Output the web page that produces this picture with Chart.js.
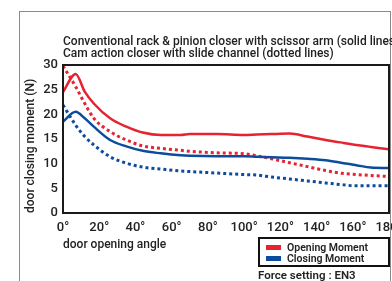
<!DOCTYPE html>
<html>
<head>
<meta charset="utf-8">
<script src="https://cdn.jsdelivr.net/npm/chart.js@4.4.1/dist/chart.umd.min.js"></script>
<style>
  html, body { margin:0; padding:0; background:#fff; overflow:hidden; }
  #wrap { position:relative; width:392px; height:281px; overflow:hidden; font-family:Roboto, "Liberation Sans", Arial, sans-serif; color:#222; }
  #frame { position:absolute; left:19px; top:11px; width:370px; height:300px; border:1.5px solid #8a8a8a; }
  #c { position:absolute; left:0; top:0; }
  .title { position:absolute; left:63px; white-space:nowrap; font-size:12px; font-weight:500; line-height:12px; }
  #legend { position:absolute; left:258px; top:237px; width:128px; height:26px; border:2px solid #111; background:#fff; }
  .li { position:absolute; left:6px; font-size:10.5px; font-weight:600; white-space:nowrap; line-height:11px; }
  .sw { display:inline-block; width:15px; height:5px; vertical-align:middle; margin-right:6px; position:relative; top:-1px; }
  #force { position:absolute; left:258px; top:269px; font-size:11.5px; font-weight:600; white-space:nowrap; line-height:13px; }
</style>
</head>
<body>
<div id="wrap">
  <div id="frame"></div>
  <canvas id="c" width="440" height="281"></canvas>
  <div class="title" id="t1" style="top:35px;">Conventional rack &amp; pinion closer with scissor arm (solid lines)</div>
  <div class="title" id="t2" style="top:47px;">Cam action closer with slide channel (dotted lines)</div>
  <div id="legend">
    <div class="li" style="top:3px;"><span class="sw" style="background:#e62330"></span>Opening Moment</div>
    <div class="li" style="top:14px;"><span class="sw" style="background:#0d4c9c"></span>Closing Moment</div>
  </div>
  <div id="force">Force setting : EN3</div>
</div>
<script>
// Door opening angle (degrees)
const angles = [0, 7, 12, 17, 26, 35, 44, 54, 65, 70, 85, 100, 107, 115, 125, 135, 145, 155, 162, 170, 180];
// Conventional rack & pinion (solid)
const openingSolid = [24.5, 28.2, 24.6, 22.2, 19.2, 17.5, 16.3, 15.8, 15.8, 16.0, 16.0, 15.8, 15.9, 16.0, 16.1, 15.5, 14.8, 14.2, 13.8, 13.4, 12.9];
const closingSolid = [18.5, 20.5, 19.2, 17.5, 14.8, 13.5, 12.6, 12.1, 11.7, 11.6, 11.5, 11.5, 11.4, 11.3, 11.2, 11.0, 10.7, 10.1, 9.7, 9.2, 9.1];
// Cam action with slide channel (dotted)
const openingDotted = [29.8, 25.6, 22.2, 19.2, 16.5, 14.8, 13.6, 13.1, 12.7, 12.5, 12.2, 12.0, 11.6, 11.0, 10.2, 9.4, 8.6, 8.0, 7.8, 7.6, 7.4];
const closingDotted = [21.9, 17.8, 15.5, 13.8, 11.4, 10.1, 9.3, 8.9, 8.5, 8.4, 8.1, 7.8, 7.7, 7.3, 6.9, 6.5, 6.1, 5.7, 5.5, 5.5, 5.5];
const yTicks = [0, 5, 10, 15, 20, 25, 30];
const xTicks = [0, 20, 40, 60, 80, 100, 120, 140, 160, 180];

const RED = '#e62330';
const BLUE = '#0d4c9c';
const TXT = '#222';

const pts = arr => angles.map((a, i) => ({x: a, y: arr[i]}));
function ds(label, arr, color, dotted) {
  return {
    label, data: pts(arr), borderColor: color, borderWidth: dotted ? 3 : 2.5,
    borderDash: dotted ? [3, 3] : [], borderCapStyle: 'butt',
    pointRadius: 0, cubicInterpolationMode: 'monotone', fill: false
  };
}

const framePlugin = {
  id: 'frame',
  afterDatasetsDraw(chart) {
    const {ctx, chartArea: a} = chart;
    ctx.save();
    ctx.strokeStyle = '#1a1a1a';
    ctx.lineWidth = 2;
    ctx.strokeRect(a.left, a.top, a.right - a.left, a.bottom - a.top);
    ctx.restore();
  }
};

new Chart(document.getElementById('c'), {
  type: 'line',
  data: {
    datasets: [
      ds('Opening Moment (solid)', openingSolid, RED, false),
      ds('Closing Moment (solid)', closingSolid, BLUE, false),
      ds('Opening Moment (dotted)', openingDotted, RED, true),
      ds('Closing Moment (dotted)', closingDotted, BLUE, true)
    ]
  },
  options: {
    responsive: false,
    animation: false,
    layout: {padding: {left: 0, top: 65, right: 51, bottom: 0}},
    plugins: {legend: {display: false}, tooltip: {enabled: false}},
    scales: {
      x: {
        type: 'linear', min: 0, max: 180,
        afterBuildTicks(s) { s.ticks = xTicks.map(v => ({value: v})); },
        afterFit(s) { s.height = 68; },
        grid: {display: false, drawTicks: false},
        border: {display: false},
        ticks: {callback: v => v + '°', color: TXT, font: {family: 'Roboto', size: 13, weight: '500'}, padding: 7, maxRotation: 0, autoSkip: false},
        title: {display: true, text: 'door opening angle', align: 'start', color: TXT, font: {family: 'Roboto', size: 12, weight: '500'}, padding: {top: 2, bottom: 29}}
      },
      y: {
        min: 0, max: 30,
        afterBuildTicks(s) { s.ticks = yTicks.map(v => ({value: v})); },
        afterFit(s) { s.width = 63; },
        grid: {display: false, drawTicks: false},
        border: {display: false},
        ticks: {color: TXT, font: {family: 'Roboto', size: 13, weight: '500'}, padding: 5},
        title: {display: true, text: 'door closing moment (N)', align: 'start', color: TXT, font: {family: 'Roboto', size: 12, weight: '500'}, padding: {top: 24, bottom: 2}}
      }
    }
  },
  plugins: [framePlugin]
});
</script>
</body>
</html>
